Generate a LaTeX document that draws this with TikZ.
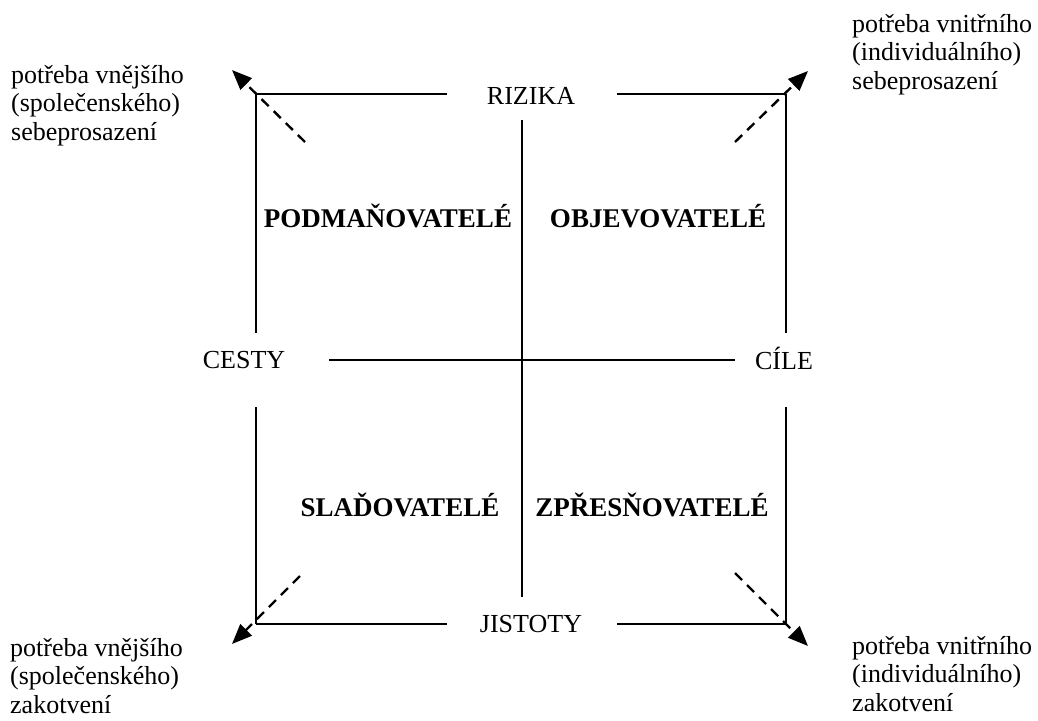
\documentclass[tikz,border=0pt]{standalone}
\usepackage{fontspec}
\setmainfont{Liberation Serif}
\usetikzlibrary{arrows.meta}
\begin{document}
\begin{tikzpicture}[x=1pt,y=-1pt,
  frame/.style={line width=2pt},
  dasharrow/.style={line width=2.4pt, dash pattern=on 10pt off 7pt, -{Triangle[length=20pt,width=16pt]}},
  lbl/.style={font=\fontsize{26}{28.5}\selectfont, inner sep=0pt, anchor=base},
  quad/.style={lbl, font=\fontsize{27}{29}\selectfont\bfseries},
  note/.style={font=\fontsize{26}{28.5}\selectfont, inner sep=0pt, align=left, anchor=north west}]
\useasboundingbox (0,0) rectangle (1038,720);
% corners
\coordinate (tl) at (256,94);
\coordinate (tr) at (786,94);
\coordinate (bl) at (256,624);
\coordinate (br) at (786,624);
% gap ends
\coordinate (t1) at (447,94);  \coordinate (t2) at (617,94);
\coordinate (b1) at (447,624); \coordinate (b2) at (617,624);
\coordinate (l1) at (256,333); \coordinate (l2) at (256,407);
\coordinate (r1) at (786,333); \coordinate (r2) at (786,407);
\coordinate (vt) at (522,120); \coordinate (vb) at (522,597);
\coordinate (hl) at (329,360); \coordinate (hr) at (735,360);
% arrow starts and tips
\coordinate (a1s) at (305,142); \coordinate (a1e) at (232,70);
\coordinate (a2s) at (735,142); \coordinate (a2e) at (808,71);
\coordinate (a3s) at (300,576); \coordinate (a3e) at (232,644);
\coordinate (a4s) at (735,573); \coordinate (a4e) at (808,646);
% axis labels
\node[lbl] (riz) at (531,104) {RIZIKA};
\node[lbl] (jis) at (531,632) {JISTOTY};
\node[lbl] (ces) at (244,368) {CESTY};
\node[lbl] (cil) at (784,369) {CÍLE};
% quadrant labels
\node[quad] (pod) at (388,227) {PODMAŇOVATELÉ};
\node[quad] (obj) at (658,227) {OBJEVOVATELÉ};
\node[quad] (sla) at (400,516) {SLAĎOVATELÉ};
\node[quad] (zpr) at (652,516) {ZPŘESŇOVATELÉ};
% corner notes
\node[note] (ntl) at (11,65) {potřeba vnějšího\\(společenského)\\sebeprosazení};
\node[note] (ntr) at (852,14) {potřeba vnitřního\\(individuálního)\\sebeprosazení};
\node[note] (nbl) at (10,638) {potřeba vnějšího\\(společenského)\\zakotvení};
\node[note] (nbr) at (852,636) {potřeba vnitřního\\(individuálního)\\zakotvení};
% frame
\draw[frame] (tl) -- (t1);
\draw[frame] (t2) -- (tr);
\draw[frame] (bl) -- (b1);
\draw[frame] (b2) -- (br);
\draw[frame] (tl) -- (l1);
\draw[frame] (l2) -- (bl);
\draw[frame] (tr) -- (r1);
\draw[frame] (r2) -- (br);
% axes
\draw[frame] (vt) -- (vb);
\draw[frame] (hl) -- (hr);
% dashed arrows
\draw[dasharrow] (a1s) -- (a1e);
\draw[dasharrow] (a2s) -- (a2e);
\draw[dasharrow] (a3s) -- (a3e);
\draw[dasharrow] (a4s) -- (a4e);
\end{tikzpicture}
\end{document}
